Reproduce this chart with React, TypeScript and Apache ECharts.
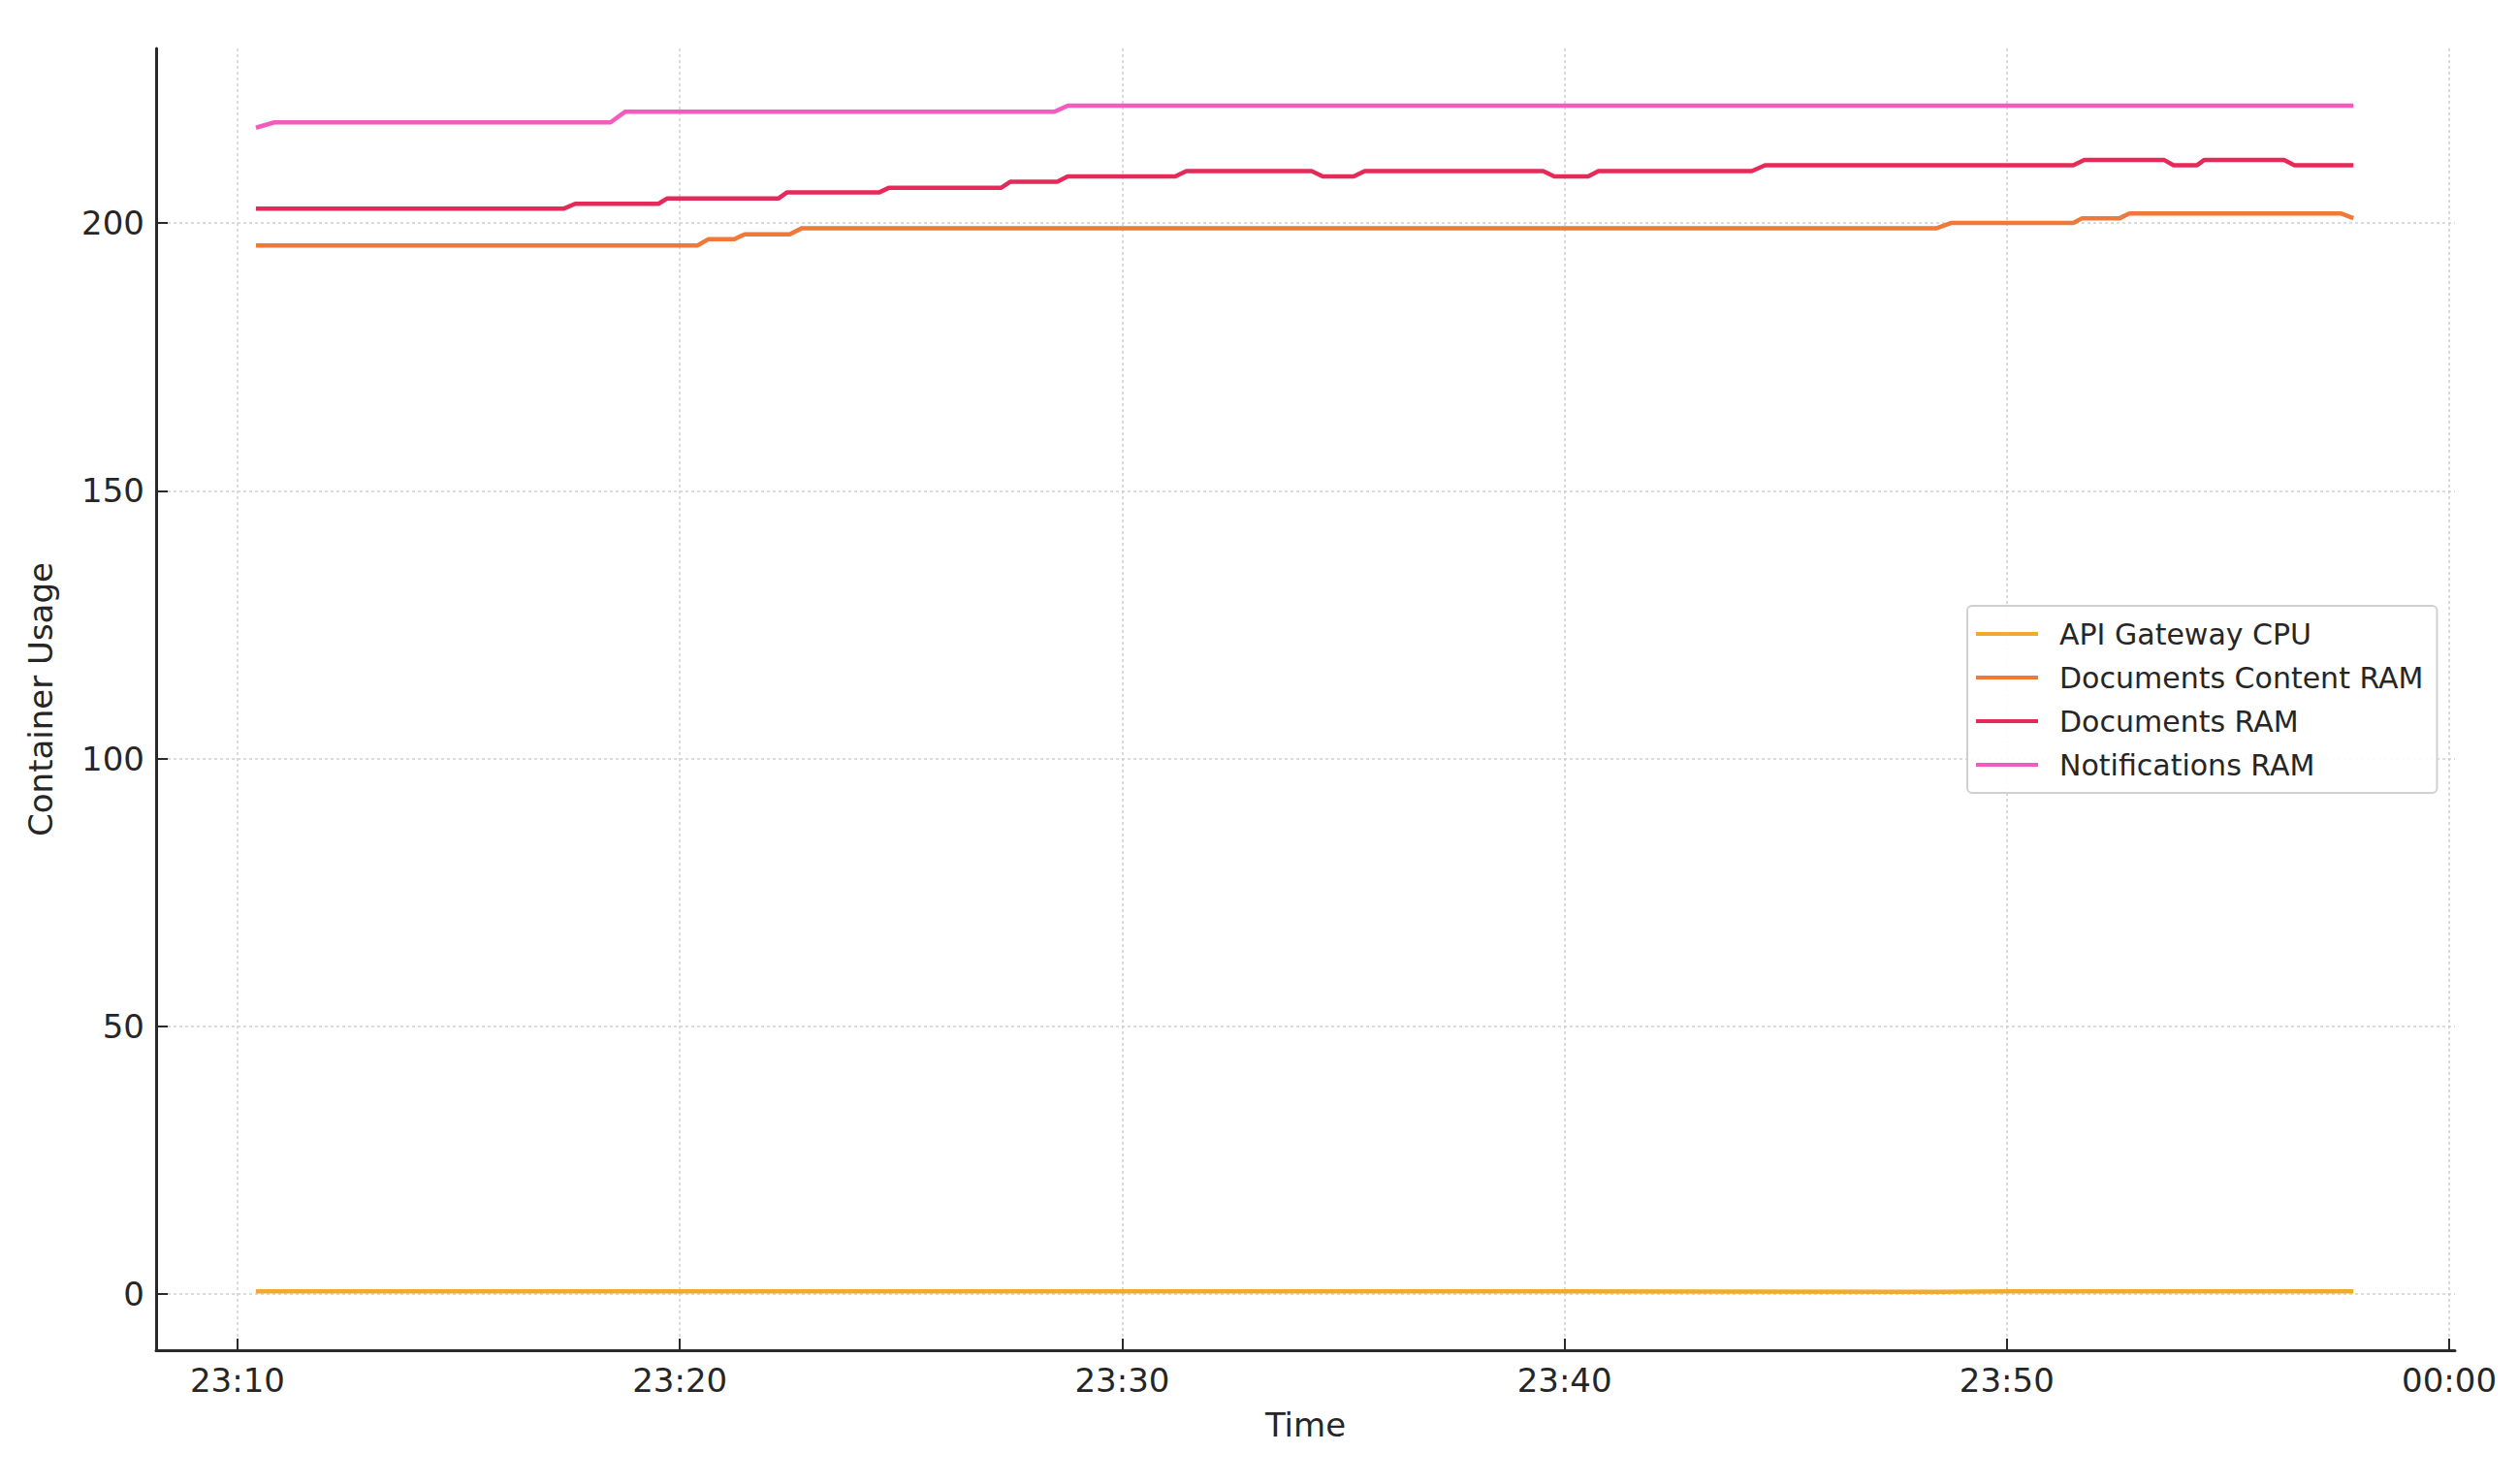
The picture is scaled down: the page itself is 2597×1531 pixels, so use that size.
import React, { useEffect, useRef } from "react";
import * as echarts from "echarts";

// ---- data (times HH:MM:SS, values in container usage units) ----
const cpuTimes = ["23:10:25", "23:20:00", "23:30:00", "23:40:00", "23:48:30", "23:50:00", "23:57:50"];
const cpuValues = [0.5, 0.5, 0.5, 0.5, 0.4, 0.5, 0.5];

const contentTimes = [
  "23:10:25", "23:20:24", "23:20:39", "23:21:14", "23:21:28", "23:22:29", "23:22:45",
  "23:48:24", "23:48:44", "23:51:30", "23:51:42", "23:52:33", "23:52:46", "23:57:33", "23:57:50",
];
const contentValues = [
  195.8, 195.8, 197.0, 197.0, 197.9, 197.9, 199.0,
  199.0, 200.0, 200.0, 200.9, 200.9, 201.8, 201.8, 200.9,
];

const docsTimes = [
  "23:10:25", "23:17:23", "23:17:38", "23:19:31", "23:19:43", "23:22:14", "23:22:25",
  "23:24:30", "23:24:44", "23:27:16", "23:27:28", "23:28:32", "23:28:46", "23:31:12", "23:31:27",
  "23:34:17", "23:34:32", "23:35:14", "23:35:29", "23:39:31", "23:39:46", "23:40:32", "23:40:46",
  "23:44:14", "23:44:32", "23:51:30", "23:51:45", "23:53:33", "23:53:46", "23:54:18", "23:54:28",
  "23:56:16", "23:56:30", "23:57:50",
];
const docsValues = [
  202.7, 202.7, 203.6, 203.6, 204.6, 204.6, 205.7,
  205.7, 206.6, 206.6, 207.7, 207.7, 208.7, 208.7, 209.7,
  209.7, 208.7, 208.7, 209.7, 209.7, 208.7, 208.7, 209.7,
  209.7, 210.8, 210.8, 211.8, 211.8, 210.8, 210.8, 211.8,
  211.8, 210.8, 210.8,
];

const notifTimes = ["23:10:25", "23:10:50", "23:18:26", "23:18:46", "23:28:28", "23:28:46", "23:57:50"];
const notifValues = [217.8, 218.8, 218.8, 220.8, 220.8, 221.9, 221.9];

const seriesNames = ["API Gateway CPU", "Documents Content RAM", "Documents RAM", "Notifications RAM"];
const seriesColors = ["#f2aa2e", "#f07838", "#e52a5a", "#f25cbf"];

// axis extents in minutes after 23:00
const xMin = 8.16;
const xMax = 60.13;
const yMin = -10.5;
const yMax = 232.6;

function toMinutes(t: string): number {
  const [h, m, s] = t.split(":").map(Number);
  return (h - 23) * 60 + m + s / 60;
}

function zip(times: string[], values: number[]) {
  return times.map((t, i) => [toMinutes(t), values[i]]);
}

function fmtX(v: number): string {
  const total = Math.round(v);
  const h = (23 + Math.floor(total / 60)) % 24;
  const m = total % 60;
  return `${String(h).padStart(2, "0")}:${String(m).padStart(2, "0")}`;
}

const FONT = "DejaVu Sans";

export default function App() {
  const ref = useRef<HTMLDivElement>(null);
  useEffect(() => {
    if (!ref.current) return;
    const chart = echarts.init(ref.current, undefined, { renderer: "svg" });
    const datasets = [
      zip(cpuTimes, cpuValues),
      zip(contentTimes, contentValues),
      zip(docsTimes, docsValues),
      zip(notifTimes, notifValues),
    ];
    chart.setOption({
      animation: false,
      backgroundColor: "#ffffff",
      grid: { left: 161, right: 65, top: 50, bottom: 138, containLabel: false },
      xAxis: {
        type: "value",
        min: xMin,
        max: xMax,
        splitNumber: 5,
        name: "Time",
        nameLocation: "middle",
        nameGap: 60,
        nameTextStyle: { fontFamily: FONT, fontSize: 34, color: "#262626" },
        axisLine: { show: true, onZero: false, lineStyle: { color: "#2a2a2a", width: 3 } },
        axisTick: { show: true, inside: true, length: 12, lineStyle: { color: "#2a2a2a", width: 2 } },
        axisLabel: {
          fontFamily: FONT,
          fontSize: 34,
          color: "#262626",
          margin: 14,
          showMinLabel: false,
          showMaxLabel: false,
          formatter: (v: number) => fmtX(v),
        },
        splitLine: {
          show: true,
          showMinLine: false,
          showMaxLine: false,
          lineStyle: { color: "#cfcfcf", width: 1.5, type: [3, 3] },
        },
      },
      yAxis: {
        type: "value",
        min: yMin,
        max: yMax,
        splitNumber: 5,
        name: "Container Usage",
        nameLocation: "middle",
        nameGap: 102,
        nameRotate: 90,
        nameTextStyle: { fontFamily: FONT, fontSize: 34, color: "#262626" },
        axisLine: { show: true, onZero: false, lineStyle: { color: "#2a2a2a", width: 3 } },
        axisTick: { show: true, inside: true, length: 12, lineStyle: { color: "#2a2a2a", width: 2 } },
        axisLabel: {
          fontFamily: FONT,
          fontSize: 34,
          color: "#262626",
          margin: 12,
          showMinLabel: false,
          showMaxLabel: false,
        },
        splitLine: {
          show: true,
          showMinLine: false,
          showMaxLine: false,
          lineStyle: { color: "#cfcfcf", width: 1.5, type: [3, 3] },
        },
      },
      legend: {
        orient: "vertical",
        left: 2029,
        top: 625,
        padding: [14, 14, 14, 9],
        itemGap: 15,
        itemWidth: 64,
        itemHeight: 4,
        icon: "rect",
        backgroundColor: "rgba(255,255,255,0.9)",
        borderColor: "#d0d0d0",
        borderWidth: 2,
        borderRadius: 5,
        textStyle: {
          fontFamily: FONT,
          fontSize: 30,
          color: "#262626",
          lineHeight: 30,
          padding: [0, 0, 0, 17],
        },
        data: seriesNames,
      },
      series: datasets.map((d, i) => ({
        name: seriesNames[i],
        type: "line",
        data: d,
        symbol: "none",
        smooth: false,
        color: seriesColors[i],
        lineStyle: { width: 4.5, color: seriesColors[i] },
        z: 2 + i,
      })),
    });
    return () => chart.dispose();
  }, []);
  return (
    <div
      ref={ref}
      style={{ position: "fixed", left: 0, top: 0, width: 2597, height: 1531, background: "#fff" }}
    />
  );
}
